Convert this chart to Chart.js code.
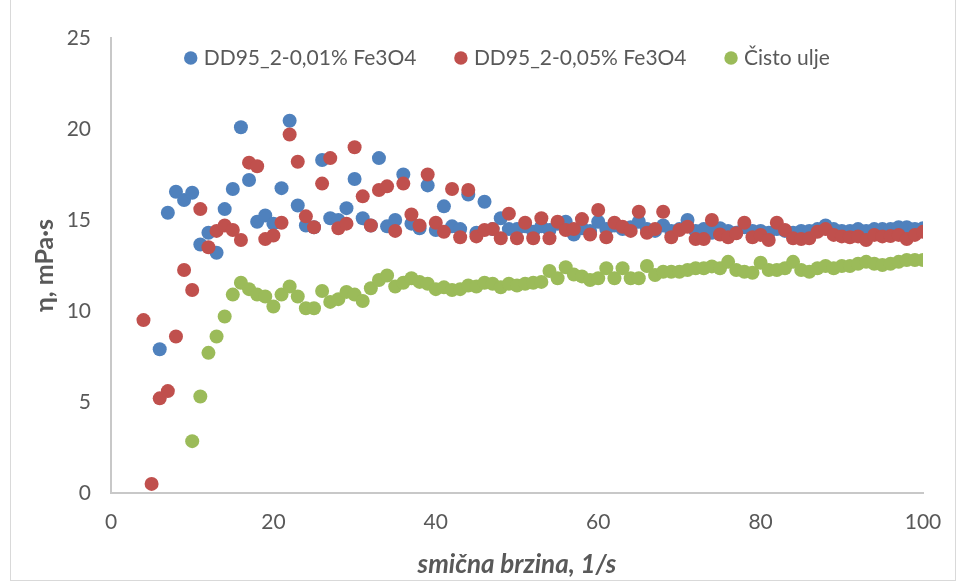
<!DOCTYPE html>
<html><head><meta charset="utf-8">
<script src="https://cdn.jsdelivr.net/npm/chart.js@4.4.0/dist/chart.umd.min.js"></script>
<style>
html,body{margin:0;padding:0;background:#fff;}
#wrap{position:relative;width:963px;height:582px;overflow:hidden;}
#frame{position:absolute;left:10px;top:-2px;width:946px;height:583px;border:1px solid #d9d9d9;box-sizing:border-box;pointer-events:none;}
canvas{display:block;}
</style></head><body>
<div id="wrap"><canvas id="c" width="963" height="582"></canvas><div id="frame"></div></div>
<script>
const seriesNames = ['DD95_2-0,01% Fe3O4', 'DD95_2-0,05% Fe3O4', 'Čisto ulje'];
const shearRate = [4,5,6,7,8,9,10,11,12,13,14,15,16,17,18,19,20,21,22,23,24,25,26,27,28,29,30,31,32,33,34,35,36,37,38,39,40,41,42,43,44,45,46,47,48,49,50,51,52,53,54,55,56,57,58,59,60,61,62,63,64,65,66,67,68,69,70,71,72,73,74,75,76,77,78,79,80,81,82,83,84,85,86,87,88,89,90,91,92,93,94,95,96,97,98,99,100];
const eta001 = [null,null,7.9,15.4,16.55,16.1,16.5,13.65,14.3,13.2,15.6,16.7,20.1,17.2,14.9,15.25,14.8,16.75,20.45,15.8,14.7,14.6,18.3,15.1,15.0,15.65,17.25,15.1,14.7,18.4,14.65,15.0,17.5,14.8,14.55,16.9,14.45,15.75,14.65,14.5,16.4,14.3,16.0,14.5,15.1,14.5,14.5,14.65,14.35,14.65,14.45,14.8,14.9,14.2,14.55,14.4,14.9,14.5,14.7,14.5,14.6,14.9,14.5,14.4,14.7,14.4,14.5,15.0,14.4,14.5,14.3,14.55,14.4,14.3,14.6,14.4,14.4,14.3,14.5,14.4,14.3,14.4,14.4,14.5,14.7,14.5,14.4,14.4,14.5,14.4,14.5,14.5,14.5,14.6,14.6,14.5,14.55];
const eta005 = [9.5,0.5,5.2,5.6,8.6,12.25,11.15,15.6,13.5,14.4,14.7,14.45,13.9,18.15,17.95,13.95,14.15,14.85,19.7,18.2,15.2,14.6,17.0,18.4,14.55,14.8,19.0,16.3,14.7,16.65,16.85,14.4,17.0,15.3,14.7,17.5,14.85,14.35,16.7,14.05,16.65,14.1,14.45,14.5,14.0,15.35,14.0,14.85,14.0,15.1,14.0,14.9,14.45,14.5,15.05,14.2,15.55,14.05,14.85,14.63,14.4,15.45,14.3,14.5,15.45,14.05,14.45,14.63,13.95,13.95,15.0,14.2,14.05,14.27,14.85,14.05,14.18,13.9,14.85,14.45,14.0,13.95,14.0,14.35,14.5,14.18,14.1,14.05,14.1,13.9,14.18,14.1,14.12,14.18,13.95,14.18,14.35];
const etaOil = [null,null,null,null,null,null,2.85,5.3,7.7,8.6,9.7,10.9,11.55,11.2,10.9,10.8,10.25,10.9,11.35,10.8,10.15,10.15,11.1,10.5,10.65,11.05,10.9,10.55,11.25,11.7,11.95,11.35,11.55,11.8,11.6,11.5,11.2,11.3,11.15,11.2,11.4,11.35,11.55,11.5,11.3,11.5,11.4,11.5,11.55,11.6,12.2,11.8,12.4,12.0,11.9,11.7,11.8,12.35,11.8,12.35,11.8,11.8,12.47,11.98,12.16,12.16,12.16,12.25,12.35,12.35,12.45,12.35,12.7,12.25,12.16,12.1,12.65,12.25,12.25,12.35,12.7,12.25,12.16,12.35,12.47,12.35,12.47,12.47,12.6,12.7,12.6,12.53,12.6,12.7,12.8,12.8,12.8];
const xTicks = [0,20,40,60,80,100];
const yTicks = [0,5,10,15,20,25];
const xTitle = 'smična brzina, 1/s';
const yTitle = 'η, mPa·s';
const colors = ['#4F81BD','#C0504D','#9BBB59'];

function pts(vals){ return shearRate.map((x,i)=>({x:x,y:vals[i]})).filter(p=>p.y!==null); }

const FONT = 'Lato';
const TXT = '#595959';
const LEG_PAD = 42;

const legendTweak = {
  id:'legendTweak',
  afterInit(chart){
    const lg = chart.legend;
    if(!lg) return;
    const f = lg.fit;
    lg.fit = function(){ f.call(this); this.height = 0; };
  },
  afterLayout(chart){
    const lg = chart.legend;
    if(!lg) return;
    lg.left -= 8; lg.right -= 8; lg.width = lg.right - lg.left;
    lg.top = 58 - LEG_PAD - 10.5; lg.bottom = lg.top + 80; lg.height = 80;
  }
};

const chart = new Chart(document.getElementById('c'), {
  type:'scatter',
  data:{ datasets:[
    {label:seriesNames[0], data:pts(eta001), backgroundColor:colors[0], borderWidth:0, pointRadius:7, pointHoverRadius:7, order:3},
    {label:seriesNames[1], data:pts(eta005), backgroundColor:colors[1], borderWidth:0, pointRadius:7, pointHoverRadius:7, order:2},
    {label:seriesNames[2], data:pts(etaOil), backgroundColor:colors[2], borderWidth:0, pointRadius:7, pointHoverRadius:7, order:1}
  ]},
  options:{
    responsive:false, animation:false,
    layout:{padding:{left:0,right:40,top:38,bottom:0}},
    plugins:{
      tooltip:{enabled:false},
      legend:{
        display:true, position:'top', fullSize:false,
        labels:{usePointStyle:true, pointStyle:'circle', boxWidth:5, boxHeight:9.5, padding:LEG_PAD,
          color:TXT, font:{family:FONT, size:21},
          sort:(a,b)=>a.datasetIndex-b.datasetIndex}
      }
    },
    scales:{
      x:{type:'linear', min:0, max:100,
        afterBuildTicks:(s)=>{ s.ticks = xTicks.map(v=>({value:v})); },
        afterFit:(s)=>{ s.height = 89; },
        grid:{display:false, drawTicks:false},
        border:{display:true, color:'#c8c8c8', width:2},
        ticks:{color:TXT, font:{family:FONT, size:21}, padding:17, maxRotation:0},
        title:{display:true, text:xTitle, color:TXT, font:{family:FONT, size:26, weight:'bold', style:'italic'}, padding:{top:0,bottom:2}}
      },
      y:{type:'linear', min:0, max:25,
        afterBuildTicks:(s)=>{ s.ticks = yTicks.map(v=>({value:v})); },
        afterFit:(s)=>{ s.width = 111; },
        grid:{display:false, drawTicks:false},
        border:{display:true, color:'#c8c8c8', width:2},
        ticks:{color:TXT, font:{family:FONT, size:21}, padding:20},
        title:{display:true, text:yTitle, color:TXT, font:{family:FONT, size:25, weight:'bold'}, padding:{top:30,bottom:0}}
      }
    }
  },
  plugins:[legendTweak]
});
</script>
</body></html>
